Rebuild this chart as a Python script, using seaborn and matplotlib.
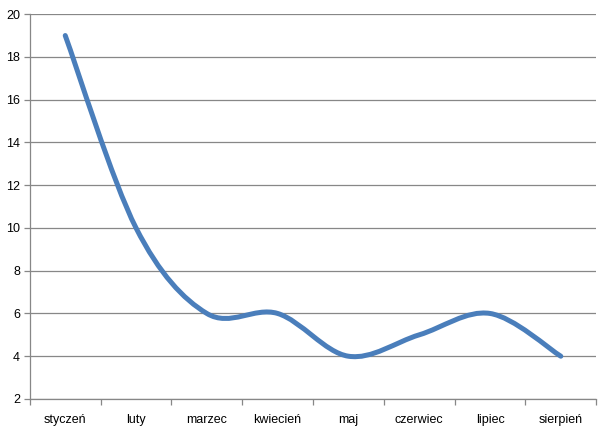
import numpy as np
import matplotlib
matplotlib.use("Agg")
import matplotlib.pyplot as plt
from matplotlib.path import Path
from matplotlib.patches import PathPatch
import seaborn as sns

sns.set_theme(style="white")
plt.rcParams['font.family'] = ['Liberation Sans', 'DejaVu Sans']

months = ["styczeń", "luty", "marzec", "kwiecień", "maj", "czerwiec", "lipiec", "sierpień"]
values = [19, 10, 6, 6, 4, 5, 6, 4]

LINE_COLOR = "#4A7EBB"
GRID_COLOR = "#878787"

fig = plt.figure(figsize=(6.09, 4.29), dpi=100)
ax = fig.add_axes([0.049, 0.070, 0.930, 0.897])

# smoothed line like Excel (cubic bezier, catmull-rom style control points)
x = np.arange(len(values), dtype=float)
y = np.array(values, dtype=float)
px = np.concatenate([[x[0]], x, [x[-1]]])
py = np.concatenate([[y[0]], y, [y[-1]]])
verts = [(x[0], y[0])]
codes = [Path.MOVETO]
for i in range(len(x) - 1):
    j = i + 1
    c1 = (px[j] + (px[j + 1] - px[j - 1]) / 6, py[j] + (py[j + 1] - py[j - 1]) / 6)
    c2 = (px[j + 1] - (px[j + 2] - px[j]) / 6, py[j + 1] - (py[j + 2] - py[j]) / 6)
    verts += [c1, c2, (x[j], y[j])]
    codes += [Path.CURVE4] * 3
patch = PathPatch(Path(verts, codes), facecolor="none", edgecolor=LINE_COLOR,
                  linewidth=3.6, capstyle="round", joinstyle="round", zorder=3)
ax.add_patch(patch)

ax.set_xlim(-0.5, len(values) - 0.5)
ax.set_ylim(2, 20)
ax.set_yticks(range(2, 21, 2))
ax.set_xticks(x)
ax.set_xticklabels(months)
ax.set_xticks(np.arange(-0.5, len(values), 1.0), minor=True)
ax.yaxis.grid(True, color=GRID_COLOR, linewidth=0.9)
ax.set_axisbelow(True)

for s in ["top", "right"]:
    ax.spines[s].set_visible(False)
for s in ["left", "bottom"]:
    ax.spines[s].set_color(GRID_COLOR)
    ax.spines[s].set_linewidth(0.9)

ax.tick_params(axis="y", which="major", left=True, length=4, width=0.9, color=GRID_COLOR,
               labelsize=9, labelcolor="black", pad=3)
ax.tick_params(axis="x", which="major", bottom=False, labelsize=9, labelcolor="black", pad=5)
ax.tick_params(axis="x", which="minor", bottom=True, length=4, width=0.9, color=GRID_COLOR)

fig.savefig("out.png", dpi=100, facecolor="white")
